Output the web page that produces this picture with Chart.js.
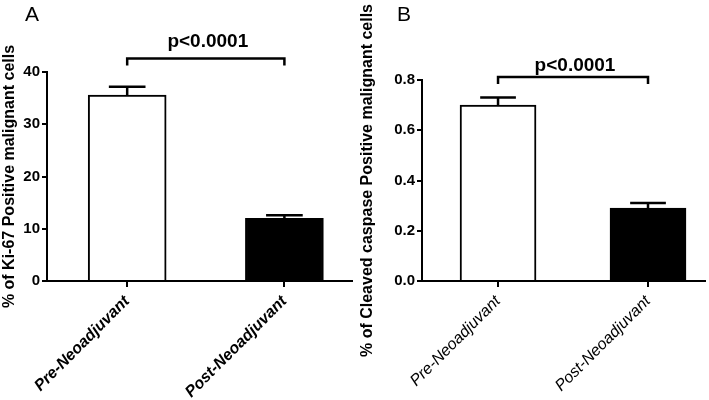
<!DOCTYPE html>
<html>
<head>
<meta charset="utf-8">
<script src="https://cdn.jsdelivr.net/npm/chart.js@4.4.1/dist/chart.umd.min.js"></script>
<style>
  html, body { margin: 0; padding: 0; background: #fff; }
  #wrap { position: relative; width: 709px; height: 400px; overflow: hidden; }
  canvas { position: absolute; top: 0; }
  #panelA { left: 0; }
  #panelB { left: 358px; }
</style>
</head>
<body>
<div id="wrap">
  <canvas id="panelA" width="358" height="400"></canvas>
  <canvas id="panelB" width="351" height="400"></canvas>
</div>
<script>
// dados
const categories = ['Pre-Neoadjuvant', 'Post-Neoadjuvant'];
const ki67Means = [35.6, 12.0];
const ki67Sem = [1.6, 0.6];
const caspaseMeans = [0.70, 0.29];
const caspaseSem = [0.03, 0.02];
const ki67Ticks = [0, 10, 20, 30, 40];
const caspaseTicks = [0.0, 0.2, 0.4, 0.6, 0.8];
const pLabel = 'p<0.0001';
const barColors = ['#ffffff', '#000000'];

const FONT = "'Liberation Sans', Arial, sans-serif";

// barras de erro, colchete de significância e letra do painel
const annotPlugin = {
    id: 'annot',
    afterDatasetsDraw(chart, args, opts) {
        const ctx = chart.ctx;
        const xs = chart.scales.x, ys = chart.scales.y;
        const half = opts.barWidth * opts.capRatio / 2;
        ctx.save();
        ctx.strokeStyle = '#000';
        ctx.lineWidth = 2.5;
        opts.means.forEach((m, i) => {
            const x = xs.getPixelForValue(i);
            const y0 = ys.getPixelForValue(m);
            const y1 = ys.getPixelForValue(m + opts.errors[i]);
            ctx.beginPath();
            ctx.moveTo(x, y0);
            ctx.lineTo(x, y1);
            ctx.moveTo(x - half, y1);
            ctx.lineTo(x + half, y1);
            ctx.stroke();
        });
        // colchete
        const xa = xs.getPixelForValue(0), xb = xs.getPixelForValue(1);
        const yb = ys.getPixelForValue(opts.bracketAt);
        ctx.beginPath();
        ctx.moveTo(xa, yb + opts.legLen);
        ctx.lineTo(xa, yb);
        ctx.lineTo(xb, yb);
        ctx.lineTo(xb, yb + opts.legLen);
        ctx.stroke();
        ctx.fillStyle = '#000';
        ctx.font = 'bold ' + opts.pSize + 'px ' + FONT;
        ctx.textAlign = 'center';
        ctx.textBaseline = 'alphabetic';
        ctx.fillText(pLabel, (xa + xb) / 2 + 2, yb - opts.pGap);
        // letra
        ctx.font = '21px ' + FONT;
        ctx.textAlign = 'left';
        ctx.fillText(opts.letter, opts.letterX, 21);
        ctx.restore();
    }
};

function makePanel(id, cfg) {
    const ctx = document.getElementById(id).getContext('2d');
    return new Chart(ctx, {
        type: 'bar',
        data: {
            datasets: [{
                data: cfg.means.map((v, i) => ({ x: i, y: v })),
                backgroundColor: barColors,
                borderColor: '#000',
                borderWidth: 2,
                borderSkipped: 'bottom',
                barThickness: cfg.barWidth
            }]
        },
        options: {
            responsive: false,
            devicePixelRatio: 1,
            animation: false,
            layout: { padding: { top: cfg.top, right: cfg.right, left: 0, bottom: 0 } },
            plugins: {
                legend: { display: false },
                tooltip: { enabled: false },
                annot: {
                    means: cfg.means, errors: cfg.errors, barWidth: cfg.barWidth, capRatio: 0.47,
                    bracketAt: cfg.bracketAt, legLen: 7, pSize: cfg.pSize, pGap: cfg.pGap,
                    letter: cfg.letter, letterX: cfg.letterX
                }
            },
            scales: {
                x: {
                    type: 'linear',
                    offset: false,
                    min: cfg.xMin,
                    max: cfg.xMax,
                    z: 1,
                    afterBuildTicks: s => { s.ticks = categories.map((c, i) => ({ value: i })); },
                    afterFit: s => { s.height = 400 - 281; },
                    border: { display: true, color: '#000', width: 2 },
                    grid: { offset: false, drawOnChartArea: false, drawTicks: true, tickLength: 6, color: '#000', lineWidth: 2 },
                    ticks: {
                        autoSkip: false,
                        minRotation: 45,
                        maxRotation: 45,
                        padding: 5,
                        color: '#000',
                        font: { family: FONT, size: 16, style: 'italic', weight: cfg.xWeight },
                        callback: v => categories[v]
                    }
                },
                y: {
                    min: cfg.yTicks[0],
                    max: cfg.yTicks[cfg.yTicks.length - 1],
                    afterBuildTicks: s => { s.ticks = cfg.yTicks.map(v => ({ value: v })); },
                    afterFit: s => { s.width = cfg.left; },
                    border: { display: true, color: '#000', width: 2 },
                    grid: { drawOnChartArea: false, drawTicks: true, tickLength: 5, color: '#000', lineWidth: 2 },
                    ticks: {
                        padding: 2,
                        color: '#000',
                        font: { family: FONT, size: 15, weight: 'bold' },
                        callback: v => cfg.decimals ? Number(v).toFixed(cfg.decimals) : v
                    },
                    title: {
                        display: true,
                        text: cfg.yTitle,
                        color: '#000',
                        padding: { top: 0, bottom: 0 },
                        font: { family: FONT, size: 16, weight: 'bold' }
                    }
                }
            }
        },
        plugins: [annotPlugin]
    });
}

// Painel A - Ki-67
makePanel('panelA', {
    means: ki67Means, errors: ki67Sem, yTicks: ki67Ticks, decimals: 0,
    yTitle: '% of Ki-67 Positive malignant cells',
    left: 47, top: 72, right: 6, barWidth: 78,
    xMin: -0.51, xMax: 1.43,
    bracketAt: 42.6, pSize: 19, pGap: 11, letter: 'A', letterX: 25,
    xWeight: 'bold'
});

// Painel B - Caspase clivada
makePanel('panelB', {
    means: caspaseMeans, errors: caspaseSem, yTicks: caspaseTicks, decimals: 1,
    yTitle: '% of Cleaved caspase Positive malignant cells',
    left: 64, top: 80, right: 4, barWidth: 76,
    xMin: -0.507, xMax: 1.38,
    bracketAt: 0.812, pSize: 19, pGap: 6, letter: 'B', letterX: 39,
    xWeight: 'normal'
});
</script>
</body>
</html>
